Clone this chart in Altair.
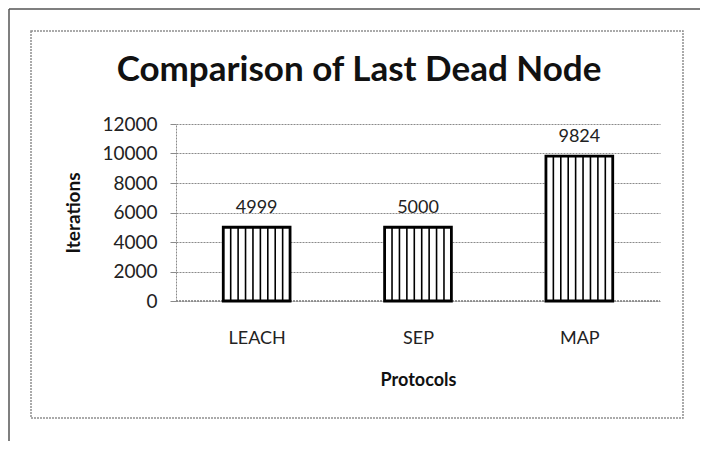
import altair as alt
import pandas as pd

# Data
protocols = ["LEACH", "SEP", "MAP"]
iterations = [4999, 5000, 9824]
y_ticks = [0, 2000, 4000, 6000, 8000, 10000, 12000]
title_text = "Comparison of Last Dead Node"
x_title = "Protocols"
y_title = "Iterations"

FONT = "Lato"
W, H = 484, 177
BAR_HALF = 0.207
N_STRIPES = 9

bars = pd.DataFrame({
    "protocol": protocols,
    "value": iterations,
    "idx": list(range(len(protocols))),
})
bars["zero"] = 0
bars["center"] = bars["idx"] + 0.5
bars["left"] = bars["center"] - BAR_HALF
bars["right"] = bars["center"] + BAR_HALF

stripe_rows = []
for _, r in bars.iterrows():
    for k in range(1, N_STRIPES):
        stripe_rows.append({
            "protocol": r["protocol"],
            "value": r["value"],
            "zero": 0,
            "sx": r["left"] + k * (2 * BAR_HALF) / N_STRIPES,
        })
stripes = pd.DataFrame(stripe_rows)

label_expr = "[" + ",".join("'%s'" % p for p in protocols) + "][floor(datum.value)]"

x_scale = alt.Scale(domain=[0, len(protocols)], nice=False, zero=False)
y_scale = alt.Scale(domain=[0, 12000], nice=False)

x_axis = alt.Axis(
    values=[i + 0.5 for i in range(len(protocols))],
    labelExpr=label_expr,
    grid=False, ticks=False, tickSize=0, domain=False,
    labelFont=FONT, labelFontSize=18, labelColor="#222",
    labelBaseline="alphabetic", labelPadding=42,
    title=x_title, titleFont=FONT, titleFontSize=18, titleFontWeight="bold",
    titleColor="#111", titleX=W / 2, titleY=84, titleBaseline="alphabetic",
    titleAlign="center",
)
y_axis = alt.Axis(
    values=y_ticks, format="d", labelOverlap=False, tickCount=7,
    grid=True, gridColor="#8a8a8a", gridDash=[2, 1], gridWidth=1,
    domain=True, domainColor="#8a8a8a", domainDash=[2, 1],
    ticks=True, tickSize=6, tickColor="#8a8a8a",
    labelFont=FONT, labelFontSize=19, labelColor="#222", labelPadding=13,
    title=y_title, titleFont=FONT, titleFontSize=19, titleFontWeight="bold",
    titleColor="#111", titleAngle=-90, titleX=-103, titleY=H / 2,
    titleBaseline="middle", titleAlign="center",
)

base = alt.Chart(bars)

bar_layer = base.mark_rect(fill="white", stroke="black", strokeWidth=2.8).encode(
    x=alt.X("left:Q", scale=x_scale, axis=x_axis, title=x_title),
    x2="right:Q",
    y=alt.Y("value:Q", scale=y_scale, axis=y_axis, title=y_title),
    y2="zero:Q",
)

stripe_layer = alt.Chart(stripes).mark_rule(color="black", strokeWidth=1.6).encode(
    x=alt.X("sx:Q", scale=x_scale, axis=x_axis, title=x_title),
    y=alt.Y("value:Q", scale=y_scale, axis=y_axis, title=y_title),
    y2="zero:Q",
)

value_labels = base.mark_text(font=FONT, fontSize=18, color="#222", dy=-14,
                              baseline="alphabetic").encode(
    x=alt.X("center:Q", scale=x_scale, axis=x_axis, title=x_title),
    y=alt.Y("value:Q", scale=y_scale, axis=y_axis, title=y_title),
    text=alt.Text("value:Q", format="d"),
)

baseline_rule = base.mark_rule(color="#8a8a8a", strokeDash=[2, 1]).encode(
    x=alt.value(0), x2=alt.value(W), y=alt.value(H),
)

deco = pd.DataFrame({"t": [title_text]})
title_layer = alt.Chart(deco).mark_text(font=FONT, fontSize=35, fontWeight="bold",
                                        color="#111", baseline="alphabetic",
                                        align="center").encode(
    x=alt.value(183), y=alt.value(-43), text="t:N",
)

inner_frame = alt.Chart(deco).mark_rect(fill=None, stroke="#8f8f8f", strokeWidth=1.5,
                                        strokeDash=[2, 1]).encode(
    x=alt.value(-145), x2=alt.value(507), y=alt.value(-93), y2=alt.value(294),
)

outer_top = alt.Chart(deco).mark_rule(color="#555", strokeWidth=1.5).encode(
    x=alt.value(-167), x2=alt.value(540), y=alt.value(-115),
)
outer_left = alt.Chart(deco).mark_rule(color="#555", strokeWidth=1.5).encode(
    x=alt.value(-167), y=alt.value(-115), y2=alt.value(330),
)

chart = alt.layer(
    inner_frame, outer_top, outer_left, baseline_rule,
    bar_layer, stripe_layer, value_labels, title_layer,
).properties(
    width=W, height=H,
    autosize=alt.AutoSizeParams(type="none"),
    padding={"left": 168, "top": 116, "right": 40, "bottom": 140},
    background="white",
).configure_view(stroke=None)

chart.save("out.html", embed_options={"renderer": "svg", "actions": False})
